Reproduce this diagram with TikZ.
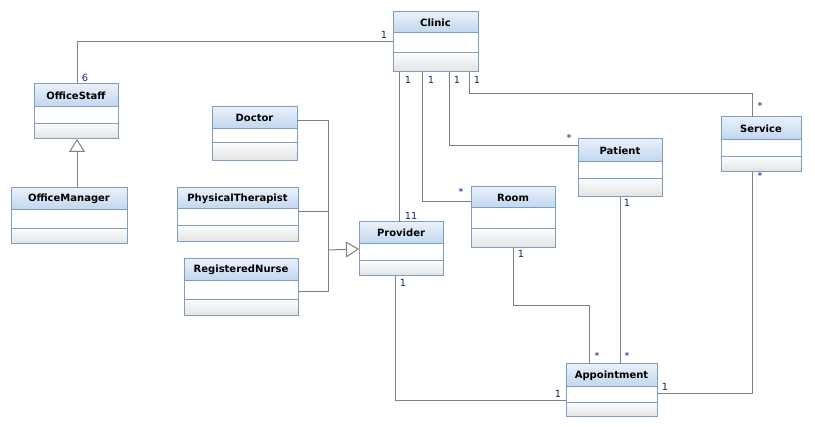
\documentclass[tikz,border=0pt]{standalone}
\usepackage{fontspec}
\setmainfont{DejaVu Sans}
\usetikzlibrary{arrows.meta}

\definecolor{hdtop}{RGB}{233,241,251}
\definecolor{hdbot}{RGB}{192,214,238}
\definecolor{optop}{RGB}{252,252,252}
\definecolor{opbot}{RGB}{226,226,226}
\definecolor{frame}{RGB}{127,157,190}
\definecolor{wire}{RGB}{128,128,128}
\definecolor{mult}{RGB}{30,30,120}

\tikzset{
  clsbox/.style={draw=none, inner sep=0pt, outer sep=0pt, rectangle},
  clsline/.style={draw=frame, line width=1pt},
  clstitle/.style={inner sep=0pt, font=\fontsize{10}{12}\selectfont\bfseries, text=black},
  conn/.style={draw=wire, line width=1pt},
  gen/.style={conn, -{Triangle[length=13pt, width=16pt, fill=white]}},
  mlabel/.style={inner sep=0pt, font=\fontsize{9.8}{11}\selectfont, text=mult},
}

% #1 name, #2 title, #3 left, #4 top, #5 width, #6 height, #7 header height, #8 attribute height
\newcommand\umlclass[8]{%
  \node[clsbox, minimum width=#5pt, minimum height=#6pt, anchor=north west] (#1) at (#3,#4) {};
  \shade[top color=hdtop, bottom color=hdbot] (#1.north west) rectangle ([yshift=-#7pt]#1.north east);
  \fill[white] ([yshift=-#7pt]#1.north west) rectangle ([yshift=-#7pt-#8pt]#1.north east);
  \shade[top color=optop, bottom color=opbot] ([yshift=-#7pt-#8pt]#1.north west) rectangle (#1.south east);
  \draw[clsline] (#1.north west) rectangle (#1.south east);
  \draw[clsline] ([yshift=-#7pt]#1.north west) -- ([yshift=-#7pt]#1.north east);
  \draw[clsline] ([yshift=-#7pt-#8pt]#1.north west) -- ([yshift=-#7pt-#8pt]#1.north east);
  \node[clstitle] (#1-title) at ([yshift=-#7pt/2]#1.north) {#2};
}

\begin{document}
\begin{tikzpicture}[x=1pt, y=-1pt]
\useasboundingbox[fill=white] (0,0) rectangle (815,427);

% classes
\umlclass{clinic}{Clinic}{393}{12}{85}{60}{21}{20}
\umlclass{officestaff}{OfficeStaff}{34}{84}{84}{55}{23}{17}
\umlclass{officemanager}{OfficeManager}{11}{188}{116}{56}{22}{19}
\umlclass{doctor}{Doctor}{212}{107}{85}{54}{22}{14}
\umlclass{therapist}{PhysicalTherapist}{177}{188}{121}{54}{21}{17}
\umlclass{nurse}{RegisteredNurse}{184}{259}{114}{57}{22}{19}
\umlclass{provider}{Provider}{359}{222}{84}{54}{22}{17}
\umlclass{room}{Room}{471}{187}{84}{61}{21}{21}
\umlclass{patient}{Patient}{578}{139}{84}{58}{23}{17}
\umlclass{service}{Service}{721}{117}{80}{55}{23}{17}
\umlclass{appointment}{Appointment}{566}{364}{91}{53}{23}{16}

% associations from Clinic
\draw[conn] ([xshift=43]officestaff.north west) |- (clinic.west);
\draw[conn] ([xshift=6]clinic.south west) -- ([xshift=6]clinic.south west |- provider.north);
\draw[conn] ([xshift=29]clinic.south west) |- ([yshift=-15]room.north west);
\draw[conn] ([xshift=56]clinic.south west) |- ([yshift=-7]patient.north west);
\draw[conn] ([xshift=76]clinic.south west) -- ++(0,22) -| ([xshift=31]service.north west);

% associations to Appointment
\draw[conn] ([xshift=36]provider.south west) |- ([yshift=-37]appointment.north west);
\draw[conn] (room.south) -- ++(0,58) -| ([xshift=23]appointment.north west);
\draw[conn] (patient.south) -- (patient.south |- appointment.north);
\draw[conn] ([xshift=31]service.south west) |- ([yshift=-30]appointment.north east);

% generalizations
\coordinate (genjoin) at (328,250);
\draw[conn] ([yshift=-14]doctor.north east) -| (genjoin);
\draw[conn] ([yshift=-24]therapist.north east) -- ([yshift=-24]therapist.north east -| genjoin);
\draw[conn] ([yshift=-33]nurse.north east) -| (genjoin);
\draw[gen] (genjoin) -- (provider.west);
\draw[gen] ([xshift=66]officemanager.north west) -- ([xshift=43]officestaff.south west);

% multiplicities
\node[mlabel] (m1) at (384,35) {1};
\node[mlabel] (m2) at (85,78) {6};
\node[mlabel] (m3) at (408,80) {1};
\node[mlabel] (m4) at (431,80) {1};
\node[mlabel] (m5) at (457,80) {1};
\node[mlabel] (m6) at (477,80) {1};
\node[mlabel] (m7) at (411,216) {11};
\node[mlabel] (m8) at (403,283) {1};
\node[mlabel] (m9) at (569,138) {*};
\node[mlabel] (m10) at (461,192) {*};
\node[mlabel] (m11) at (627,203) {1};
\node[mlabel] (m12) at (521,254) {1};
\node[mlabel] (m13) at (760,106) {*};
\node[mlabel] (m14) at (760,176) {*};
\node[mlabel] (m15) at (597,356) {*};
\node[mlabel] (m16) at (627,356) {*};
\node[mlabel] (m17) at (558,394) {1};
\node[mlabel] (m18) at (665,387) {1};
\end{tikzpicture}
\end{document}
